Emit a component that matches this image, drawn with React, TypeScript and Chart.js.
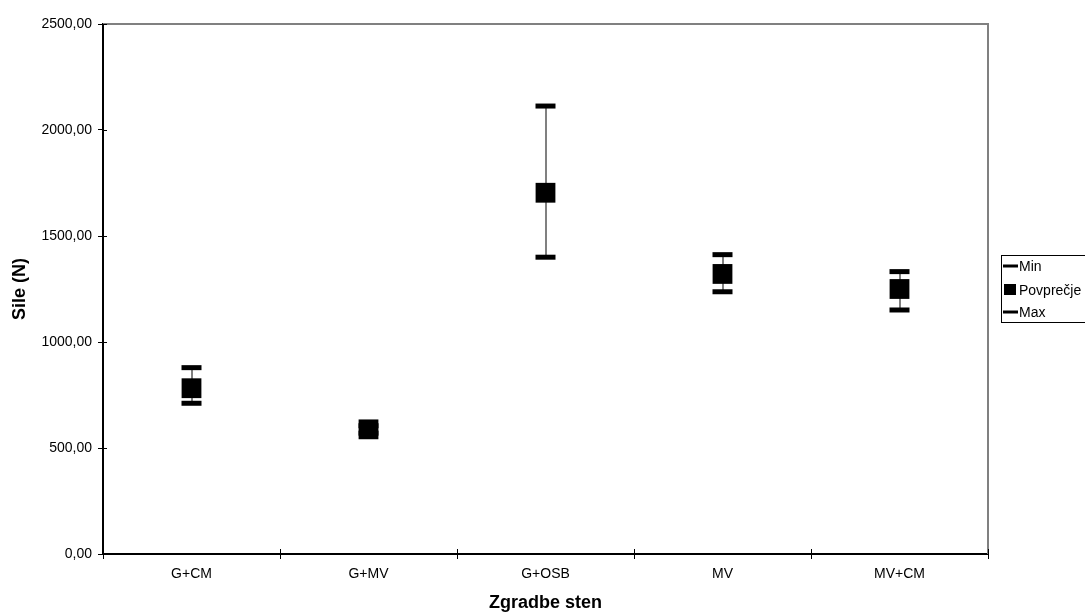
import React, { useEffect, useRef } from "react";
import { Chart, registerables } from "chart.js";

Chart.register(...registerables);

const categories = ["G+CM", "G+MV", "G+OSB", "MV", "MV+CM"];
const minValues = [711, 570, 1400, 1237, 1151];
const avgValues = [782, 588, 1704, 1321, 1250];
const maxValues = [879, 605, 2113, 1412, 1332];
const yTicks = [0, 500, 1000, 1500, 2000, 2500];
const seriesNames = ["Min", "Povprečje", "Max"];
const xTitle = "Zgradbe sten";
const yTitle = "Sile (N)";

const FONT = "'Liberation Sans', Arial, sans-serif";

const hiLoPlugin = {
  id: "hiLo",
  beforeDatasetsDraw(chart: any) {
    const { ctx, chartArea, scales } = chart;
    const x = scales.x;
    const y = scales.y;
    ctx.save();
    // plot frame (top and right, gray)
    ctx.strokeStyle = "#808080";
    ctx.lineWidth = 2;
    ctx.beginPath();
    ctx.moveTo(chartArea.left, chartArea.top);
    ctx.lineTo(chartArea.right, chartArea.top);
    ctx.lineTo(chartArea.right, chartArea.bottom);
    ctx.stroke();
    // inner tick marks
    ctx.strokeStyle = "#000";
    ctx.lineWidth = 1;
    yTicks.forEach((v) => {
      const py = Math.round(y.getPixelForValue(v)) + 0.5;
      ctx.beginPath();
      ctx.moveTo(chartArea.left, py);
      ctx.lineTo(chartArea.left + 4, py);
      ctx.stroke();
    });
    for (let i = 0; i <= categories.length; i++) {
      const px = Math.round(x.getPixelForValue(i - 0.5)) + 0.5;
      ctx.beginPath();
      ctx.moveTo(px, chartArea.bottom);
      ctx.lineTo(px, chartArea.bottom - 5);
      ctx.stroke();
    }
    // high-low lines
    ctx.strokeStyle = "#808080";
    ctx.lineWidth = 2;
    categories.forEach((_, i) => {
      const px = Math.round(x.getPixelForValue(i));
      ctx.beginPath();
      ctx.moveTo(px, y.getPixelForValue(minValues[i]));
      ctx.lineTo(px, y.getPixelForValue(maxValues[i]));
      ctx.stroke();
    });
    ctx.restore();
  },
};

const legendPlugin = {
  id: "customLegend",
  afterDraw(chart: any) {
    const { ctx } = chart;
    ctx.save();
    ctx.strokeStyle = "#000";
    ctx.lineWidth = 1;
    ctx.strokeRect(1001.5, 255.5, 120, 67);
    ctx.font = `14px ${FONT}`;
    ctx.fillStyle = "#000";
    ctx.textBaseline = "middle";
    const ys = [266, 290, 312];
    seriesNames.forEach((name, i) => {
      const yy = ys[i];
      if (i === 1) {
        ctx.fillRect(1004, yy - 6, 12, 11);
      } else {
        ctx.fillRect(1003, yy - 1.5, 15, 3);
      }
      ctx.fillText(name, 1019, yy + 1);
    });
    ctx.restore();
  },
};

export default function App() {
  const canvasRef = useRef<HTMLCanvasElement | null>(null);

  useEffect(() => {
    const canvas = canvasRef.current;
    if (!canvas) return;
    const chart = new Chart(canvas, {
      type: "line",
      data: {
        labels: categories,
        datasets: [
          {
            label: seriesNames[0],
            data: minValues,
            showLine: false,
            pointStyle: "line",
            pointRadius: 10,
            pointBorderWidth: 5,
            borderColor: "#000",
            backgroundColor: "#000",
          },
          {
            label: seriesNames[1],
            data: avgValues,
            showLine: false,
            pointStyle: "rect",
            pointRadius: 14,
            pointBorderWidth: 0,
            borderColor: "#000",
            backgroundColor: "#000",
          },
          {
            label: seriesNames[2],
            data: maxValues,
            showLine: false,
            pointStyle: "line",
            pointRadius: 10,
            pointBorderWidth: 5,
            borderColor: "#000",
            backgroundColor: "#000",
          },
        ],
      },
      options: {
        responsive: false,
        animation: false,
        devicePixelRatio: 1,
        events: [],
        layout: { padding: { left: 0, right: 97, top: 24, bottom: 0 } },
        plugins: {
          legend: { display: false },
          tooltip: { enabled: false },
        },
        scales: {
          x: {
            type: "category",
            offset: true,
            grid: {
              offset: true,
              drawOnChartArea: false,
              drawTicks: true,
              tickLength: 5,
              color: "#000",
              lineWidth: 1,
            },
            border: { display: true, color: "#000", width: 2 },
            ticks: {
              color: "#000",
              padding: 7,
              font: { family: FONT, size: 14 },
              maxRotation: 0,
            },
            title: {
              display: true,
              text: xTitle,
              color: "#000",
              font: { family: FONT, size: 18, weight: "bold" },
              padding: { top: 0, bottom: 0 },
            },
            afterFit(scale: any) {
              scale.height = 60;
            },
          },
          y: {
            type: "linear",
            min: 0,
            max: 2500,
            grid: {
              drawOnChartArea: false,
              drawTicks: true,
              tickLength: 5,
              color: "#000",
              lineWidth: 1,
            },
            border: { display: true, color: "#000", width: 2 },
            ticks: {
              color: "#000",
              padding: 6,
              font: { family: FONT, size: 14 },
              callback: (v: any) => Number(v).toFixed(2).replace(".", ","),
            },
            afterBuildTicks(scale: any) {
              scale.ticks = yTicks.map((v) => ({ value: v }));
            },
            title: {
              display: true,
              text: yTitle,
              color: "#000",
              font: { family: FONT, size: 18, weight: "bold" },
              padding: { top: 9, bottom: 0 },
            },
            afterFit(scale: any) {
              scale.width = 103;
            },
          },
        },
      },
      plugins: [hiLoPlugin, legendPlugin],
    } as any);
    return () => chart.destroy();
  }, []);

  return (
    <div style={{ position: "fixed", left: 0, top: 0, width: 1085, height: 614, background: "#fff" }}>
      <canvas ref={canvasRef} width={1085} height={614} style={{ width: 1085, height: 614 }} />
    </div>
  );
}
